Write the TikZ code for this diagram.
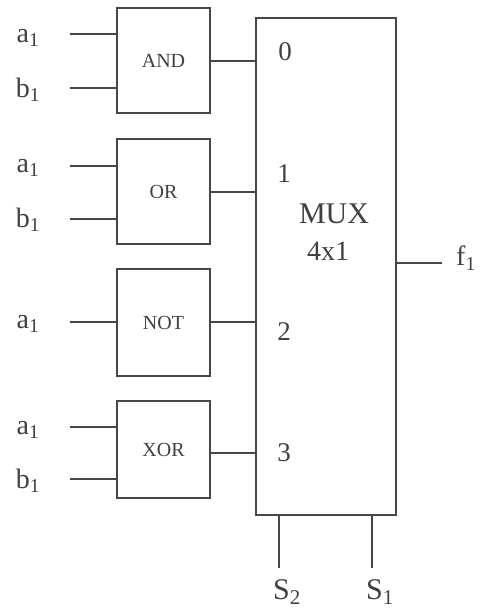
\documentclass[tikz,border=0pt]{standalone}
\usepackage{fontspec}
\setmainfont{Liberation Serif}
\begin{document}
\begin{tikzpicture}[x=1pt,y=-1pt,
  line/.style={draw=black!72,line width=1.8pt},
  gate/.style={draw=black!72,line width=1.8pt,rectangle,minimum width=93pt,inner sep=0pt,font=\fontsize{20}{20}\selectfont,text=black!75},
  lbl/.style={text=black!75,inner sep=0pt,font=\fontsize{28}{28}\selectfont},
  num/.style={text=black!75,inner sep=0pt,font=\fontsize{27}{27}\selectfont}]
\useasboundingbox (0,0) rectangle (483,609);
% gates
\node[gate,minimum height=105pt] (and) at (163.5,60.5) {AND};
\node[gate,minimum height=105pt] (or) at (163.5,191.5) {OR};
\node[gate,minimum height=107pt] (not) at (163.5,322.5) {NOT};
\node[gate,minimum height=97pt] (xor) at (163.5,449.5) {XOR};
% mux
\node[draw=black!72,line width=1.8pt,rectangle,minimum width=140pt,minimum height=497pt,inner sep=0pt] (mux) at (326,266.5) {};
% input coordinates
\coordinate (ia1) at (70,34);
\coordinate (ib1) at (70,88);
\coordinate (ia2) at (70,166);
\coordinate (ib2) at (70,219);
\coordinate (ia3) at (70,322);
\coordinate (ia4) at (70,427);
\coordinate (ib4) at (70,479);
\draw[line] (ia1) -- (and.west |- ia1);
\draw[line] (ib1) -- (and.west |- ib1);
\draw[line] (ia2) -- (or.west |- ia2);
\draw[line] (ib2) -- (or.west |- ib2);
\draw[line] (ia3) -- (not.west |- ia3);
\draw[line] (ia4) -- (xor.west |- ia4);
\draw[line] (ib4) -- (xor.west |- ib4);
% input labels
\node[lbl] (la1) at (28,38) {a\textsubscript{1}};
\node[lbl] (lb1) at (28,90) {b\textsubscript{1}};
\node[lbl] (la2) at (28,168) {a\textsubscript{1}};
\node[lbl] (lb2) at (28,220) {b\textsubscript{1}};
\node[lbl] (la3) at (28,324) {a\textsubscript{1}};
\node[lbl] (la4) at (28,430) {a\textsubscript{1}};
\node[lbl] (lb4) at (28,481) {b\textsubscript{1}};
% gate outputs
\coordinate (o1) at (210,61);
\coordinate (o2) at (210,192);
\coordinate (o3) at (210,322);
\coordinate (o4) at (210,453);
\draw[line] (and.east |- o1) -- (mux.west |- o1);
\draw[line] (or.east |- o2) -- (mux.west |- o2);
\draw[line] (not.east |- o3) -- (mux.west |- o3);
\draw[line] (xor.east |- o4) -- (mux.west |- o4);
% mux labels
\node[num] (n0) at (285,52) {0};
\node[num] (n1) at (284,174) {1};
\node[num] (n2) at (284,332) {2};
\node[num] (n3) at (284,453) {3};
\node[text=black!75,inner sep=0pt,font=\fontsize{30}{30}\selectfont] (mt) at (334,214) {MUX};
\node[text=black!75,inner sep=0pt,font=\fontsize{28}{28}\selectfont] (mt2) at (328,251) {4x1};
% output
\coordinate (f) at (442,263);
\draw[line] (mux.east |- f) -- (f);
\node[lbl] (lf) at (466,258) {f\textsubscript{1}};
% selects
\coordinate (s2) at (279,568);
\coordinate (s1) at (372,568);
\draw[line] (mux.south -| s2) -- (s2);
\draw[line] (mux.south -| s1) -- (s1);
\node[text=black!75,inner sep=0pt,font=\fontsize{30}{30}\selectfont] (ls2) at (287,592) {S\textsubscript{2}};
\node[text=black!75,inner sep=0pt,font=\fontsize{30}{30}\selectfont] (ls1) at (380,592) {S\textsubscript{1}};
\end{tikzpicture}
\end{document}
